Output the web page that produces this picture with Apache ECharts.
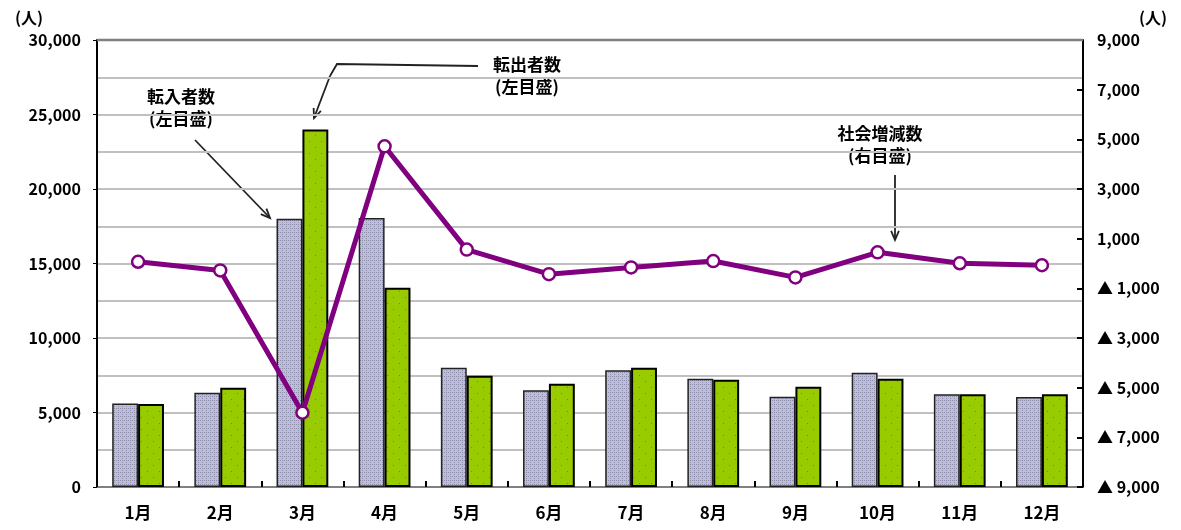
<!DOCTYPE html>
<html>
<head>
<meta charset="utf-8">
<script src="https://cdn.jsdelivr.net/npm/echarts@6/dist/echarts.min.js"></script>
<style>
  html, body { margin: 0; padding: 0; background: #fff; }
  #main { width: 1181px; height: 530px; }
</style>
</head>
<body>
<div id="main"></div>
<script>
// data
const months = ['1月', '2月', '3月', '4月', '5月', '6月', '7月', '8月', '9月', '10月', '11月', '12月'];
const tennyu = [5600, 6330, 18000, 18050, 8000, 6490, 7830, 7270, 6060, 7670, 6220, 6040];    // 転入者数
const tenshutsu = [5570, 6660, 24000, 13380, 7470, 6930, 8010, 7200, 6730, 7270, 6220, 6220]; // 転出者数
const zougen = [70, -280, -6010, 4720, 560, -430, -160, 100, -560, 450, 10, -70];             // 社会増減数

const FONT = '"Noto Sans CJK JP", "Liberation Sans", sans-serif';

function comma(v) {
  return String(Math.abs(v)).replace(/\B(?=(\d{3})+(?!\d))/g, ',');
}

// fill patterns like the excel ones
function patternIn() {
  const c = document.createElement('canvas');
  c.width = 4; c.height = 4;
  const g = c.getContext('2d');
  g.fillStyle = '#bcbce8';
  g.fillRect(0, 0, 4, 4);
  g.fillStyle = '#8e8ea6';
  g.fillRect(0, 0, 1, 1);
  g.fillRect(2, 2, 1, 1);
  g.fillRect(2, 0, 1, 1);
  return c;
}
function patternOut() {
  const c = document.createElement('canvas');
  c.width = 12; c.height = 12;
  const g = c.getContext('2d');
  g.fillStyle = '#99cc00';
  g.fillRect(0, 0, 12, 12);
  g.fillStyle = '#9a7420';
  g.fillRect(3, 3, 1, 1);
  g.fillRect(9, 9, 1, 1);
  return c;
}

// simple open arrow for the annotations
function arrow(x1, y1, x2, y2) {
  const a = Math.atan2(y2 - y1, x2 - x1);
  const L = 10, w = 0.4;
  return {
    type: 'group',
    children: [
      { type: 'line', shape: { x1: x1, y1: y1, x2: x2, y2: y2 }, style: { stroke: '#222', lineWidth: 1.8 } },
      { type: 'polyline', shape: { points: [
          [x2 - L * Math.cos(a - w), y2 - L * Math.sin(a - w)],
          [x2, y2],
          [x2 - L * Math.cos(a + w), y2 - L * Math.sin(a + w)]
        ] }, style: { stroke: '#222', lineWidth: 1.8, fill: null } }
    ]
  };
}

function label(x, y, txt) {
  return {
    type: 'text', x: x, y: y,
    style: { text: txt, font: 'bold 17px ' + FONT, fill: '#000', align: 'center', verticalAlign: 'top', lineHeight: 22 }
  };
}

const chart = echarts.init(document.getElementById('main'));

const option = {
  animation: false,
  grid: { left: 97, right: 98, top: 40, bottom: 43 },
  xAxis: {
    type: 'category',
    data: months,
    axisLine: { lineStyle: { color: '#808080', width: 2 } },
    axisTick: { show: true, inside: true, length: 6, lineStyle: { color: '#000', width: 2 } },
    axisLabel: { color: '#000', fontFamily: FONT, fontWeight: 'bold', fontSize: 17, margin: 17 }
  },
  yAxis: [
    {
      type: 'value',
      min: 0, max: 30000, interval: 5000,
      name: '(人)',
      nameLocation: 'end',
      nameGap: 14,
      nameTextStyle: { color: '#000', fontFamily: FONT, fontWeight: 'bold', fontSize: 16, align: 'right', padding: [0, 54, 0, 0] },
      axisLine: { show: true, lineStyle: { color: '#000', width: 2 } },
      axisTick: { show: true, length: 4, lineStyle: { color: '#000' } },
      axisLabel: { color: '#000', fontFamily: FONT, fontWeight: 'bold', fontSize: 16, margin: 16, formatter: comma },
      splitLine: { show: true, lineStyle: { color: '#c0c0c0', width: 2 } },
      minorTick: { show: false, splitNumber: 2 },
      minorSplitLine: { show: true, lineStyle: { color: '#c0c0c0', width: 2 } }
    },
    {
      type: 'value',
      min: -9000, max: 9000, interval: 2000,
      name: '(人)',
      nameLocation: 'end',
      nameGap: 14,
      nameTextStyle: { color: '#000', fontFamily: FONT, fontWeight: 'bold', fontSize: 16, align: 'left', padding: [0, 0, 0, 56] },
      axisLine: { show: true, lineStyle: { color: '#000', width: 2 } },
      axisTick: { show: true, inside: true, length: 6, lineStyle: { color: '#000', width: 2 } },
      axisLabel: {
        color: '#000', fontFamily: FONT, fontWeight: 'bold', fontSize: 16, margin: 14,
        formatter: function (v) { return v < 0 ? '▲ ' + comma(v) : comma(v); }
      },
      splitLine: { show: false }
    }
  ],
  series: [
    {
      name: '転入者数',
      type: 'bar',
      data: tennyu,
      barGap: '0%',
      barCategoryGap: '37%',
      itemStyle: { color: { image: patternIn(), repeat: 'repeat' }, borderColor: '#222', borderWidth: 1.5 }
    },
    {
      name: '転出者数',
      type: 'bar',
      data: tenshutsu,
      itemStyle: { color: { image: patternOut(), repeat: 'repeat' }, borderColor: '#000', borderWidth: 2 }
    },
    {
      name: '社会増減数',
      type: 'line',
      yAxisIndex: 1,
      data: zougen,
      z: 5,
      symbol: 'circle',
      symbolSize: 12,
      lineStyle: { color: '#800080', width: 5 },
      itemStyle: { color: '#fff', borderColor: '#800080', borderWidth: 2.5 }
    }
  ],
  graphic: [
    // top border of the plot area
    { type: 'line', shape: { x1: 97, y1: 40, x2: 1083, y2: 40 }, style: { stroke: '#808080', lineWidth: 2.5 }, z: 10 },
    label(181, 86, '転入者数\n(左目盛)'),
    arrow(195, 140, 270, 218),
    label(527, 54, '転出者数\n(左目盛)'),
    { type: 'polyline', shape: { points: [[478, 66], [337, 64], [330, 76]] }, style: { stroke: '#222', lineWidth: 1.8, fill: null } },
    arrow(330, 76, 314, 118),
    label(880, 123, '社会増減数\n(右目盛)'),
    arrow(895, 175, 895, 240)
  ]
};

chart.setOption(option);
</script>
</body>
</html>
